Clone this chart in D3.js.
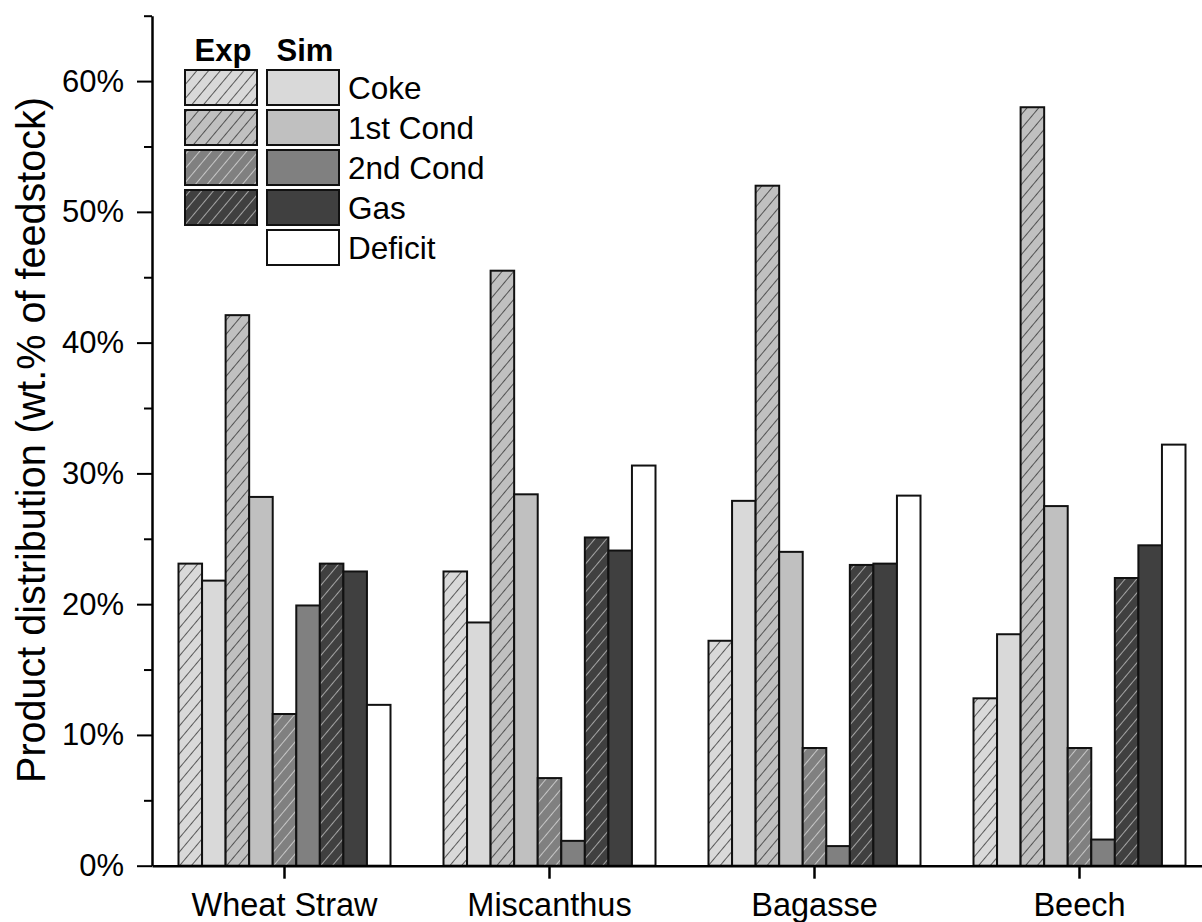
<!DOCTYPE html>
<html>
<head>
<meta charset="utf-8">
<script src="https://cdn.jsdelivr.net/npm/d3@7"></script>
<style>
    body { margin: 0; background: #fff; }
    svg { display: block; font-family: Arial, "Liberation Sans", Helvetica, sans-serif; }
    .axis path, .axis line { stroke: #000; }
</style>
</head>
<body>
<div id="chart"></div>
<script>
// values (wt.% of feedstock)
const categories = ['Wheat Straw', 'Miscanthus', 'Bagasse', 'Beech'];
const cokeExp  = [23.1, 22.5, 17.2, 12.8];
const cokeSim  = [21.8, 18.6, 27.9, 17.7];
const cond1Exp = [42.1, 45.5, 52.0, 58.0];
const cond1Sim = [28.2, 28.4, 24.0, 27.5];
const cond2Exp = [11.6, 6.7, 9.0, 9.0];
const cond2Sim = [19.9, 1.9, 1.5, 2.0];
const gasExp   = [23.1, 25.1, 23.0, 22.0];
const gasSim   = [22.5, 24.1, 23.1, 24.5];
const deficit  = [12.3, 30.6, 28.3, 32.2];

const legendRows = ['Coke', '1st Cond', '2nd Cond', 'Gas', 'Deficit'];
const yTicks = [0, 10, 20, 30, 40, 50, 60];
const yMinorTicks = [5, 15, 25, 35, 45, 55, 65];

class GroupedBarChart {
    constructor(_config) {
        this.config = {
            parentElement: _config.parentElement,
            containerWidth: _config.containerWidth || 1202,
            containerHeight: _config.containerHeight || 922,
            margin: _config.margin || { top: 15.7, right: -10, bottom: 56.3, left: 152 }
        };
        this.initVis();
    }

    initVis() {
        let vis = this;

        vis.width = vis.config.containerWidth - vis.config.margin.left - vis.config.margin.right;
        vis.height = vis.config.containerHeight - vis.config.margin.top - vis.config.margin.bottom;

        vis.svg = d3.select(vis.config.parentElement).append('svg')
            .attr('width', vis.config.containerWidth)
            .attr('height', vis.config.containerHeight);

        // series order inside each group
        vis.series = [
            { key: 'cokeExp',  values: cokeExp,  fill: '#d9d9d9', hatch: '#222' },
            { key: 'cokeSim',  values: cokeSim,  fill: '#d9d9d9' },
            { key: 'cond1Exp', values: cond1Exp, fill: '#c0c0c0', hatch: '#222' },
            { key: 'cond1Sim', values: cond1Sim, fill: '#c0c0c0' },
            { key: 'cond2Exp', values: cond2Exp, fill: '#808080', hatch: '#e6e6e6' },
            { key: 'cond2Sim', values: cond2Sim, fill: '#808080' },
            { key: 'gasExp',   values: gasExp,   fill: '#404040', hatch: '#d0d0d0' },
            { key: 'gasSim',   values: gasSim,   fill: '#404040' },
            { key: 'deficit',  values: deficit,  fill: '#ffffff' }
        ];

        // hatch patterns
        const defs = vis.svg.append('defs');
        vis.series.filter(s => s.hatch).forEach(s => {
            const p = defs.append('pattern')
                .attr('id', `hatch-${s.key}`)
                .attr('patternUnits', 'userSpaceOnUse')
                .attr('width', 9)
                .attr('height', 9)
                .attr('patternTransform', 'rotate(40)');
            p.append('rect').attr('width', 9).attr('height', 9).attr('fill', s.fill);
            p.append('line')
                .attr('x1', 0).attr('y1', 0).attr('x2', 0).attr('y2', 9)
                .attr('stroke', s.hatch).attr('stroke-width', 1.4);
        });

        vis.xScale = d3.scaleBand()
            .domain(categories)
            .range([0, vis.width])
            .padding(0);

        vis.innerScale = d3.scaleBand()
            .domain(vis.series.map(s => s.key))
            .range([26.5, vis.xScale.bandwidth() - 26.5])
            .padding(0);

        vis.yScale = d3.scaleLinear()
            .domain([0, 65])
            .range([vis.height, 0]);

        vis.chart = vis.svg.append('g')
            .attr('transform', `translate(${vis.config.margin.left},${vis.config.margin.top})`);

        vis.barsG = vis.chart.append('g');
        vis.xAxisG = vis.chart.append('g').attr('class', 'axis x-axis')
            .attr('transform', `translate(0,${vis.height})`);
        vis.yAxisG = vis.chart.append('g').attr('class', 'axis y-axis');
        vis.yMinorG = vis.chart.append('g').attr('class', 'axis y-minor');

        // y axis title
        vis.svg.append('text')
            .attr('transform', `translate(45,440) rotate(-90)`)
            .attr('text-anchor', 'middle')
            .attr('font-size', 41)
            .attr('textLength', 686)
            .attr('lengthAdjust', 'spacingAndGlyphs')
            .text('Product distribution (wt.% of feedstock)');

        vis.renderVis();
        vis.renderLegend();
    }

    renderVis() {
        let vis = this;

        const rows = [];
        categories.forEach((c, i) => {
            vis.series.forEach(s => rows.push({ category: c, series: s, value: s.values[i] }));
        });

        vis.barsG.selectAll('.bar')
            .data(rows)
            .join('rect')
                .attr('class', 'bar')
                .attr('x', d => vis.xScale(d.category) + vis.innerScale(d.series.key))
                .attr('width', vis.innerScale.bandwidth())
                .attr('y', d => vis.yScale(d.value))
                .attr('height', d => vis.yScale(0) - vis.yScale(d.value))
                .attr('fill', d => d.series.hatch ? `url(#hatch-${d.series.key})` : d.series.fill)
                .attr('stroke', '#111')
                .attr('stroke-width', 2);

        const xAxis = d3.axisBottom(vis.xScale).tickSize(13).tickSizeOuter(0).tickPadding(14);
        vis.xAxisG.call(xAxis)
            .call(g => g.selectAll('.domain').attr('stroke-width', 2.5))
            .call(g => g.selectAll('.tick line').attr('stroke-width', 2.5))
            .call(g => g.selectAll('.tick text')
                .attr('font-size', 32.5).attr('fill', '#000')
                .attr('font-family', 'Arial, "Liberation Sans", sans-serif'));

        const yAxis = d3.axisLeft(vis.yScale)
            .tickValues(yTicks)
            .tickFormat(d => d + '%')
            .tickSize(15)
            .tickSizeOuter(0)
            .tickPadding(13);
        vis.yAxisG.call(yAxis)
            .call(g => g.selectAll('.domain').attr('stroke-width', 2.5))
            .call(g => g.selectAll('.tick line').attr('stroke-width', 2))
            .call(g => g.selectAll('.tick text')
                .attr('font-size', 31).attr('fill', '#000')
                .attr('font-family', 'Arial, "Liberation Sans", sans-serif'));

        const yMinor = d3.axisLeft(vis.yScale).tickValues(yMinorTicks).tickSize(8).tickFormat('');
        vis.yMinorG.call(yMinor)
            .call(g => g.select('.domain').remove())
            .call(g => g.selectAll('.tick line').attr('stroke-width', 2));
    }

    renderLegend() {
        let vis = this;
        const lg = vis.svg.append('g').attr('transform', 'translate(185,70)');
        const boxW = 72, boxH = 35, pitch = 40;

        lg.append('text').attr('x', 38).attr('y', -9).attr('text-anchor', 'middle')
            .attr('font-size', 31).attr('font-weight', 'bold').text('Exp');
        lg.append('text').attr('x', 120).attr('y', -9).attr('text-anchor', 'middle')
            .attr('font-size', 31).attr('font-weight', 'bold').text('Sim');

        const expSeries = vis.series.filter(s => s.hatch);
        const simSeries = vis.series.filter(s => !s.hatch);

        lg.selectAll('.leg-exp')
            .data(expSeries)
            .join('rect')
                .attr('class', 'leg-exp')
                .attr('x', 0)
                .attr('y', (d, i) => i * pitch)
                .attr('width', boxW).attr('height', boxH)
                .attr('fill', d => `url(#hatch-${d.key})`)
                .attr('stroke', '#111').attr('stroke-width', 2);

        lg.selectAll('.leg-sim')
            .data(simSeries)
            .join('rect')
                .attr('class', 'leg-sim')
                .attr('x', 82)
                .attr('y', (d, i) => i * pitch)
                .attr('width', boxW).attr('height', boxH)
                .attr('fill', d => d.fill)
                .attr('stroke', '#111').attr('stroke-width', 2);

        lg.selectAll('.leg-label')
            .data(legendRows)
            .join('text')
                .attr('class', 'leg-label')
                .attr('x', 163)
                .attr('y', (d, i) => i * pitch + 29)
                .attr('font-size', 31.5)
                .text(d => d);
    }
}

new GroupedBarChart({ parentElement: '#chart' });
</script>
</body>
</html>
